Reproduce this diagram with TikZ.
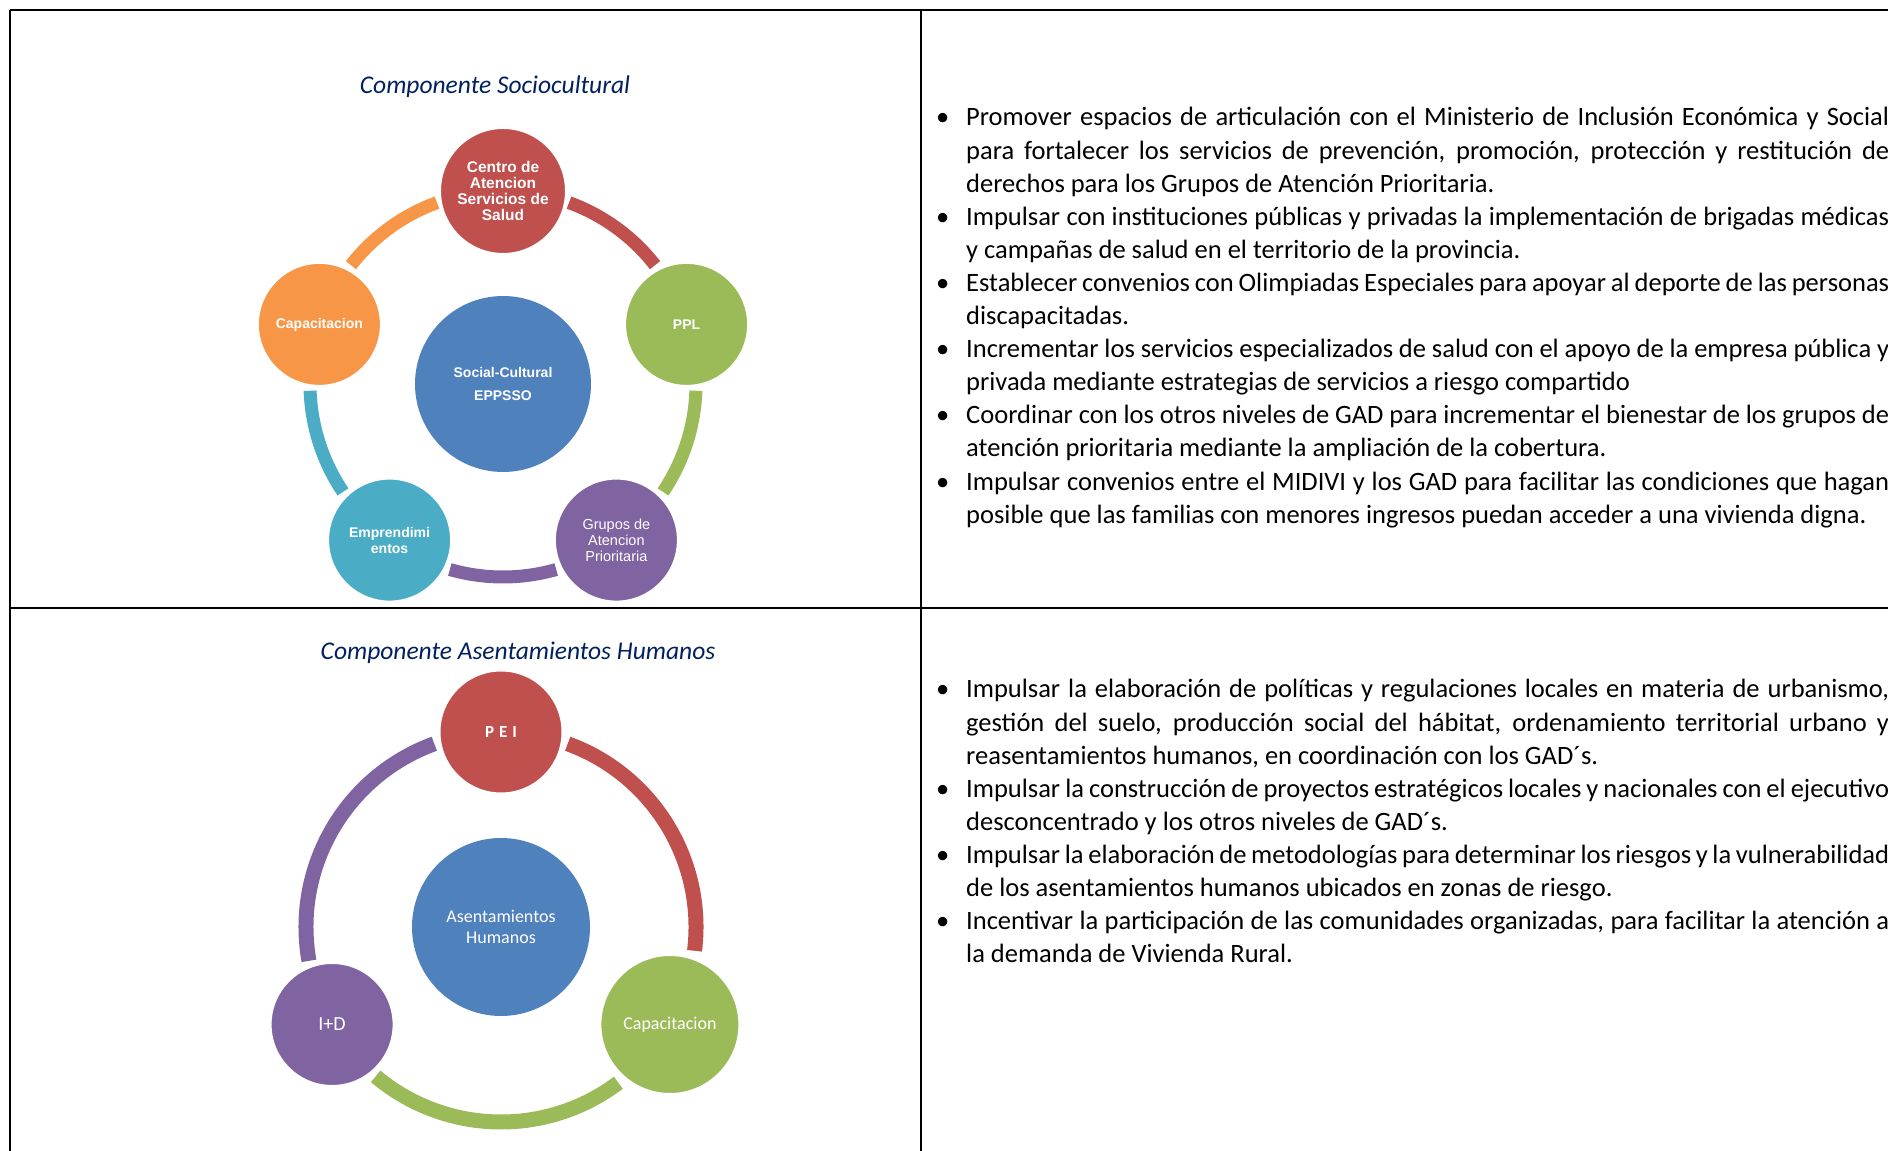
\documentclass[tikz,border=0pt]{standalone}
\usepackage{fontspec}
\setmainfont{Carlito}
\newfontfamily\arialfont{Liberation Sans}

\definecolor{cred}{HTML}{C0504D}
\definecolor{cgreen}{HTML}{9BBB59}
\definecolor{cpurple}{HTML}{8064A2}
\definecolor{cteal}{HTML}{4BACC6}
\definecolor{corange}{HTML}{F79646}
\definecolor{cblue}{HTML}{4F81BD}
\definecolor{cnavy}{HTML}{002060}

% justified line, last line, bullet
\newcommand{\jline}[1]{\makebox[\linewidth][s]{#1}}
\newcommand{\lline}[1]{\makebox[\linewidth][l]{#1}}
\newcommand{\bull}{\leavevmode\llap{\textbullet\hspace{17pt}}}

\begin{document}
\begin{tikzpicture}[x=1pt, y=1pt,
    petal/.style={circle, draw=white, line width=3pt, minimum size=124pt, inner sep=0pt, text=white, align=center, font=\arialfont\bfseries\fontsize{14}{16}\selectfont},
    hub/.style={circle, fill=cblue, inner sep=0pt, text=white, align=center},
    link/.style={line width=13pt},
    heading/.style={inner sep=0pt, text=cnavy, font=\itshape\fontsize{25.5}{30}\selectfont},
    bullets/.style={anchor=base west, inner sep=0pt, font=\fontsize{26.5}{33.1}\selectfont},
    rule/.style={line width=1.5pt},
    ]
    \useasboundingbox (0,0) rectangle (1888,1151);
    \clip (0,0) rectangle (1888,1151);

    % Table frame
    \draw[rule, line width=2.2pt] (10,1141) -- (1900,1141);
    \draw[rule] (10,1141) -- (10,-10);
    \draw[rule] (921,1141) -- (921,-10);
    \draw[rule] (10,543) -- (1900,543);

    % Row 1: Componente Sociocultural
    \node[heading] (tsoc) at (495,1064) {Componente Sociocultural};
    \node[hub, minimum size=176pt, font=\arialfont\bfseries\fontsize{14}{23}\selectfont] (soc) at (503,767) {Social-Cultural\\EPPSSO};

    \draw[link, cred] (soc.center) ++(70:193) arc[start angle=70, end angle=38, radius=193];
    \draw[link, cgreen] (soc.center) ++(-2:193) arc[start angle=-2, end angle=-34, radius=193];
    \draw[link, cpurple] (soc.center) ++(-74:193) arc[start angle=-74, end angle=-106, radius=193];
    \draw[link, cteal] (soc.center) ++(-146:193) arc[start angle=-146, end angle=-178, radius=193];
    \draw[link, corange] (soc.center) ++(142:193) arc[start angle=142, end angle=110, radius=193];

    \node[petal, fill=cred, minimum size=127pt, font=\arialfont\bfseries\fontsize{15.5}{16}\selectfont] (salud) at (503,960) {Centro de\\Atencion\\Servicios de\\Salud};
    \node[petal, fill=cgreen] (ppl) at (686.6,826.6) {PPL};
    \node[petal, fill=cpurple, font=\arialfont\fontsize{14.5}{16}\selectfont] (grupos) at (616.4,610.9) {Grupos de\\Atencion\\Prioritaria};
    \node[petal, fill=cteal] (empr) at (389.6,610.9) {Emprendimi\\entos};
    \node[petal, fill=corange] (capac) at (319.4,826.6) {Capacitacion};

    \node[bullets] (lsoc) at (966,1025) {\parbox[t]{923pt}{%
      \bull\jline{Promover espacios de articulación con el Ministerio de Inclusión Económica y Social}\\
      \jline{para fortalecer los servicios de prevención, promoción, protección y restitución de}\\
      \lline{derechos para los Grupos de Atención Prioritaria.}\\
      \bull\jline{Impulsar con instituciones públicas y privadas la implementación de brigadas médicas}\\
      \lline{y campañas de salud  en el territorio de la provincia.}\\
      \bull\jline{Establecer convenios con Olimpiadas Especiales para apoyar  al deporte de las personas}\\
      \lline{discapacitadas.}\\
      \bull\jline{Incrementar los servicios especializados de salud  con el apoyo de la empresa pública y}\\
      \lline{privada mediante estrategias de servicios a riesgo compartido}\\
      \bull\jline{Coordinar con los otros niveles de GAD para incrementar el bienestar de los grupos de}\\
      \lline{atención prioritaria mediante la ampliación de la cobertura.}\\
      \bull\jline{Impulsar convenios entre  el MIDIVI y los GAD para facilitar las condiciones que hagan}\\
      \lline{posible que las familias con menores ingresos puedan acceder a una vivienda digna.}}};

    % Row 2: Componente Asentamientos Humanos
    \node[heading] (tase) at (518,498.4) {Componente Asentamientos Humanos};
    \node[hub, minimum size=178pt, font=\fontsize{18}{20.5}\selectfont] (ase) at (501,224) {Asentamientos\\Humanos};

    \draw[link, line width=15pt, cred] (ase.center) ++(70:195) arc[start angle=70, end angle=-7, radius=195];
    \draw[link, line width=15pt, cgreen] (ase.center) ++(-53:195) arc[start angle=-53, end angle=-130, radius=195];
    \draw[link, line width=15pt, cpurple] (ase.center) ++(-170:195) arc[start angle=-170, end angle=-250, radius=195];

    \node[petal, fill=cred, font=\bfseries\fontsize{17}{20}\selectfont] (pei) at (501,419) {P\hspace{5pt}E\hspace{5pt}I};
    \node[petal, fill=cgreen, minimum size=140pt, font=\fontsize{18}{22}\selectfont] (capb) at (669.9,126.5) {Capacitacion};
    \node[petal, fill=cpurple, font=\fontsize{20}{22}\selectfont] (imasd) at (332.1,126.5) {I+D};

    \node[bullets] (lase) at (966,453) {\parbox[t]{923pt}{%
      \bull\jline{Impulsar la elaboración de políticas y regulaciones locales en materia de urbanismo,}\\
      \jline{gestión del suelo, producción social del hábitat, ordenamiento territorial urbano y}\\
      \lline{reasentamientos humanos, en coordinación con los GAD´s.}\\
      \bull\jline{Impulsar la construcción de proyectos estratégicos locales y nacionales con el ejecutivo}\\
      \lline{desconcentrado y los otros niveles de GAD´s.}\\
      \bull\jline{Impulsar la elaboración de metodologías para determinar los riesgos y la vulnerabilidad}\\
      \lline{de los asentamientos humanos ubicados en zonas de riesgo.}\\
      \bull\jline{Incentivar la participación de las comunidades organizadas, para facilitar la atención a}\\
      \lline{la demanda de Vivienda Rural.}}};
  \end{tikzpicture}
\end{document}
